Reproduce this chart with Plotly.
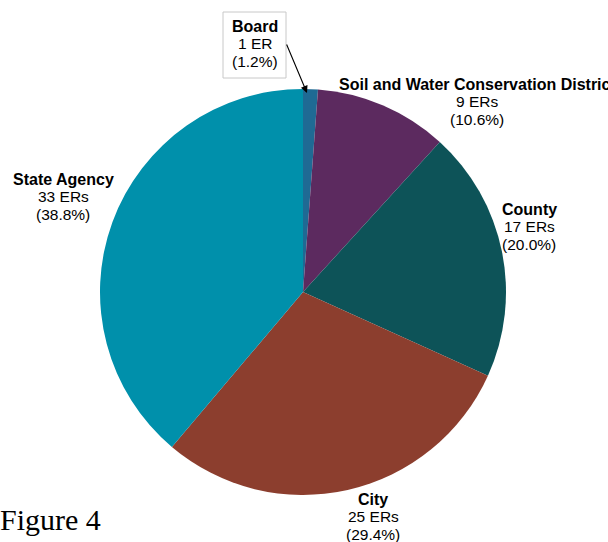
import plotly.graph_objects as go

# Entity types and their counts of ERs, clockwise from 12 o'clock
categories = ["Board", "Soil and Water Conservation District", "County", "City", "State Agency"]
counts = [1, 9, 17, 25, 33]
count_labels = ["1 ER", "9 ERs", "17 ERs", "25 ERs", "33 ERs"]
colors = ["#1f6a94", "#5c2a5f", "#0d5358", "#8c3e2e", "#0090ab"]

W, H = 608, 542
CX, CY, R = 303, 292, 203

total = sum(counts)
pcts = [f"({100 * c / total:.1f}%)" for c in counts]

fig = go.Figure(go.Pie(
    labels=categories,
    values=counts,
    sort=False,
    direction="clockwise",
    rotation=0,
    marker=dict(colors=colors, line=dict(width=0)),
    textinfo="none",
    hoverinfo="label+value+percent",
    domain=dict(x=[(CX - R) / W, (CX + R) / W],
                y=[(H - CY - R) / H, (H - CY + R) / H]),
    showlegend=False,
))

# label anchor (pixel centre of the first line) for each slice
label_pos = {
    "Soil and Water Conservation District": (477, 84),
    "County": (529, 209),
    "City": (373, 499),
    "State Agency": (63, 179),
    "Board": (255, 26),
}
LINE = 17.5
FONT = "Liberation Sans, Arial, sans-serif"

def px(x, y):
    return x / W, 1 - y / H

annotations = []
for name, cnt, pct in zip(categories, count_labels, pcts):
    x0, y0 = label_pos[name]
    for i, txt in enumerate([f"<b>{name}</b>", cnt, pct]):
        xp, yp = px(x0, y0 + i * LINE)
        annotations.append(dict(
            x=xp, y=yp, xref="paper", yref="paper", text=txt,
            showarrow=False, xanchor="center", yanchor="middle",
            font=dict(family=FONT, size=16 if i == 0 else 15.5, color="black"),
        ))

# box around the Board label
bx0, by0 = px(223, 12)
bx1, by1 = px(286, 78)
shapes = [dict(type="rect", xref="paper", yref="paper",
               x0=bx0, y0=by0, x1=bx1, y1=by1,
               line=dict(color="#c8c8c8", width=1), fillcolor="rgba(0,0,0,0)",
               layer="below")]

# leader arrow from the Board label to its slice
tipx, tipy = px(307, 93)
annotations.append(dict(
    x=tipx, y=tipy, xref="paper", yref="paper", text="",
    showarrow=True, arrowhead=2, arrowsize=1.3, arrowwidth=1.1,
    arrowcolor="black", ax=286 - 307, ay=43 - 93, standoff=0,
))

# figure caption
fx, fy = px(-2, 519)
annotations.append(dict(
    x=fx, y=fy, xref="paper", yref="paper", text="Figure 4",
    showarrow=False, xanchor="left", yanchor="middle",
    font=dict(family="Liberation Serif, Times New Roman, serif", size=30, color="black"),
))

fig.update_layout(
    width=W, height=H,
    margin=dict(l=0, r=0, t=0, b=0),
    paper_bgcolor="white", plot_bgcolor="white",
    annotations=annotations, shapes=shapes,
)

fig.write_html("out.html")
